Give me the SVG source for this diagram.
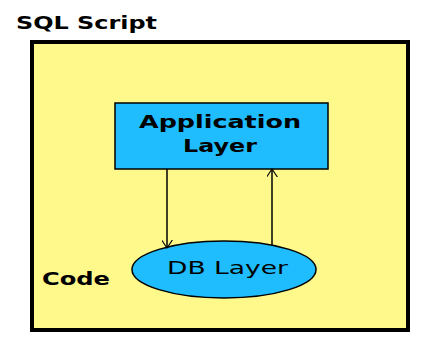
<svg xmlns="http://www.w3.org/2000/svg" width="438" height="350" viewBox="0 0 438 350">
<defs>
<style>
.t{font-family:"DejaVu Sans","Liberation Sans",sans-serif;fill:#000}
.b{font-weight:bold}
.ln{stroke:#000;stroke-width:1.5;fill:none}
</style>
<marker id="ah" viewBox="0 0 10 12" refX="9" refY="6" markerWidth="9" markerHeight="11" orient="auto" markerUnits="userSpaceOnUse">
<path d="M0,0 L9,6 L0,12" fill="none" stroke="#000" stroke-width="1.2"/>
</marker>
</defs>
<rect width="438" height="350" fill="#fff"/>
<text class="t b" x="16" y="29" font-size="18" textLength="141" lengthAdjust="spacingAndGlyphs">SQL Script</text>
<g id="code">
<rect x="32" y="42" width="376" height="288" fill="#FFF98C" stroke="#000" stroke-width="4"/>
<text class="t b" x="42" y="285" font-size="17" textLength="68" lengthAdjust="spacingAndGlyphs">Code</text>
</g>
<g id="app">
<rect x="115" y="103" width="213" height="66" fill="#1FBDFD" stroke="#000" stroke-width="1.5"/>
<text class="t b" x="139" y="128" font-size="18" textLength="162" lengthAdjust="spacingAndGlyphs">Application</text>
<text class="t b" x="183" y="152" font-size="18" textLength="74" lengthAdjust="spacingAndGlyphs">Layer</text>
</g>
<g id="db">
<ellipse cx="224" cy="269.5" rx="92" ry="28.5" fill="#1FBDFD" stroke="#000" stroke-width="1.5"/>
<text class="t" x="167" y="274" font-size="18" textLength="121" lengthAdjust="spacingAndGlyphs">DB Layer</text>
</g>
<g id="connectors">
<line class="ln" x1="167" y1="169" x2="167" y2="248" marker-end="url(#ah)"/>
<line class="ln" x1="272" y1="245" x2="272" y2="169" marker-end="url(#ah)"/>
</g>
</svg>
